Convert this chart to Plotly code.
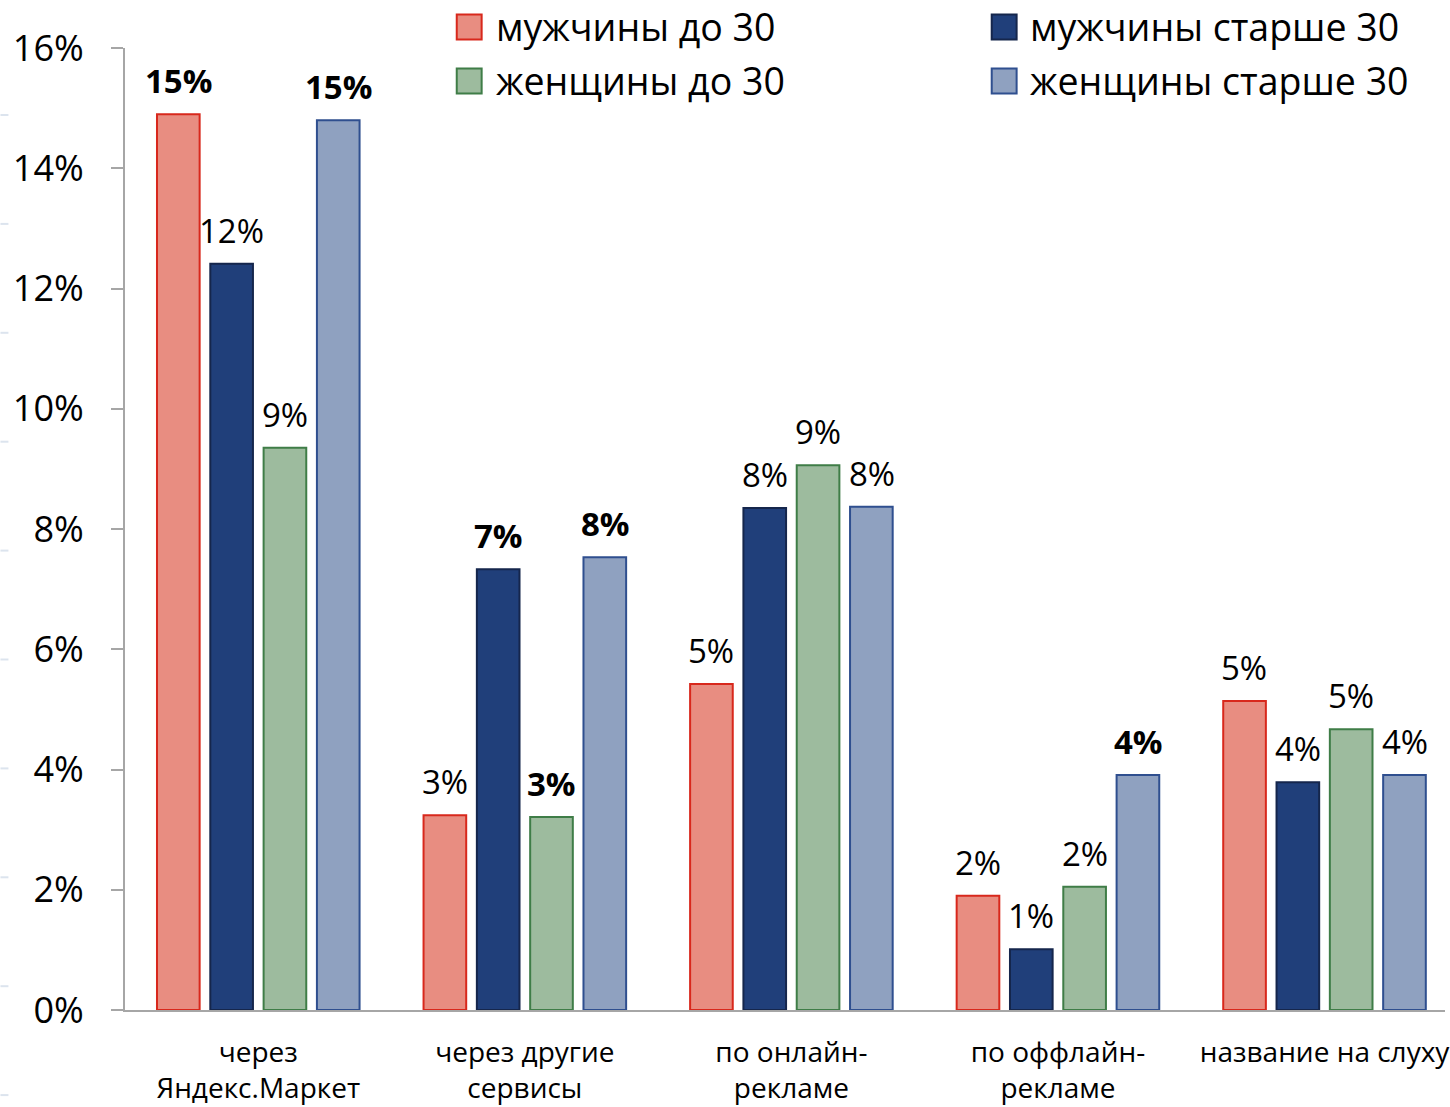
import plotly.graph_objects as go

# Survey: how respondents learned about the store, by gender and age group (% of respondents)
categories = [
    "через<br>Яндекс.Маркет",
    "через другие<br>сервисы",
    "по онлайн-<br>рекламе",
    "по оффлайн-<br>рекламе",
    "название на слуху",
]
series_names = ["мужчины до 30", "мужчины старше 30", "женщины до 30", "женщины старше 30"]
men_under_30 = [14.90, 3.24, 5.42, 1.90, 5.14]
men_over_30 = [12.41, 7.33, 8.35, 1.01, 3.79]
women_under_30 = [9.35, 3.21, 9.06, 2.05, 4.67]
women_over_30 = [14.80, 7.53, 8.37, 3.91, 3.91]
y_ticks = [0, 2, 4, 6, 8, 10, 12, 14, 16]

series_values = [men_under_30, men_over_30, women_under_30, women_over_30]

# styling
fills = ["#E88D81", "#203F7A", "#9DBB9E", "#8FA1C0"]
borders = ["#D8281C", "#15264C", "#3F7D47", "#2F4F8F"]
# (series index, category index) of labels shown in bold
bold_labels = {(0, 0), (3, 0), (1, 1), (2, 1), (3, 1), (3, 3)}

FONT = "Open Sans"
W, H = 1450, 1107
M_L, M_R, M_T, M_B = 125, 0, 48, 97
PLOT_W = W - M_L - M_R
PLOT_H = H - M_T - M_B
X_RANGE = [-0.5, 4.452]
BARGAP, GROUPGAP = 0.2, 0.2


def px_x(px):
    """Pixel column -> paper x."""
    return (px - M_L) / PLOT_W


def px_y(py):
    """Pixel row (from top) -> paper y."""
    return (H - M_B - py) / PLOT_H


fig = go.Figure()
for s, (name, vals) in enumerate(zip(series_names, series_values)):
    fig.add_trace(go.Bar(
        name=name,
        x=categories,
        y=vals,
        marker=dict(color=fills[s], line=dict(color=borders[s], width=2)),
        showlegend=False,
    ))

annotations = []

# value labels above each bar
cat_px = PLOT_W / (X_RANGE[1] - X_RANGE[0])
slot_px = cat_px * (1 - BARGAP) / len(series_values)
for s, vals in enumerate(series_values):
    offset = (s - (len(series_values) - 1) / 2) * slot_px
    for c, v in enumerate(vals):
        t = f"{round(v)}%"
        if (s, c) in bold_labels:
            t = f"<b>{t}</b>"
        annotations.append(dict(
            x=categories[c], y=v, xref="x", yref="y",
            xshift=offset, yshift=9,
            xanchor="center", yanchor="bottom", showarrow=False,
            text=t, font=dict(family=FONT, size=33, color="#000000"),
        ))

# legend drawn as squares with text, two columns
legend_cols = [(458, 495), (995, 1031)]
legend_rows = [27, 81]
shapes = []
for s, name in enumerate(series_names):
    col = s % 2
    row = s // 2
    sx, tx = legend_cols[col]
    cy = legend_rows[row]
    shapes.append(dict(
        type="rect", xref="paper", yref="paper",
        x0=px_x(sx), x1=px_x(sx + 25),
        y0=px_y(cy + 12.5), y1=px_y(cy - 12.5),
        fillcolor=fills[s], line=dict(color=borders[s], width=2),
    ))
    annotations.append(dict(
        xref="paper", yref="paper", x=px_x(tx), y=px_y(cy),
        xanchor="left", yanchor="middle", showarrow=False,
        text=name, font=dict(family=FONT, size=37.5, color="#000000"),
    ))

# faint marks along the left edge
for k in range(10):
    py = 115 + k * 108.9
    shapes.append(dict(
        type="line", xref="paper", yref="paper",
        x0=px_x(0), x1=px_x(8), y0=px_y(py), y1=px_y(py),
        line=dict(color="#DCE4EE", width=2),
    ))

fig.update_layout(
    width=W,
    height=H,
    margin=dict(l=M_L, r=M_R, t=M_T, b=M_B),
    paper_bgcolor="white",
    plot_bgcolor="white",
    barmode="group",
    bargap=BARGAP,
    bargroupgap=GROUPGAP,
    font=dict(family=FONT, color="#000000"),
    shapes=shapes,
    annotations=annotations,
    xaxis=dict(
        range=X_RANGE,
        showline=True,
        linecolor="#A6A6A6",
        linewidth=2,
        ticks="",
        showgrid=False,
        tickfont=dict(family=FONT, size=28, color="#000000"),
        ticklabelstandoff=16,
    ),
    yaxis=dict(
        range=[0, 16],
        tickvals=y_ticks,
        ticktext=[f"{v}%" for v in y_ticks],
        showline=True,
        linecolor="#A6A6A6",
        linewidth=2,
        ticks="outside",
        ticklen=12,
        tickwidth=2,
        tickcolor="#A6A6A6",
        showgrid=False,
        zeroline=False,
        tickfont=dict(family=FONT, size=36, color="#000000"),
        ticklabelstandoff=20,
    ),
)

fig.write_html("out.html")
